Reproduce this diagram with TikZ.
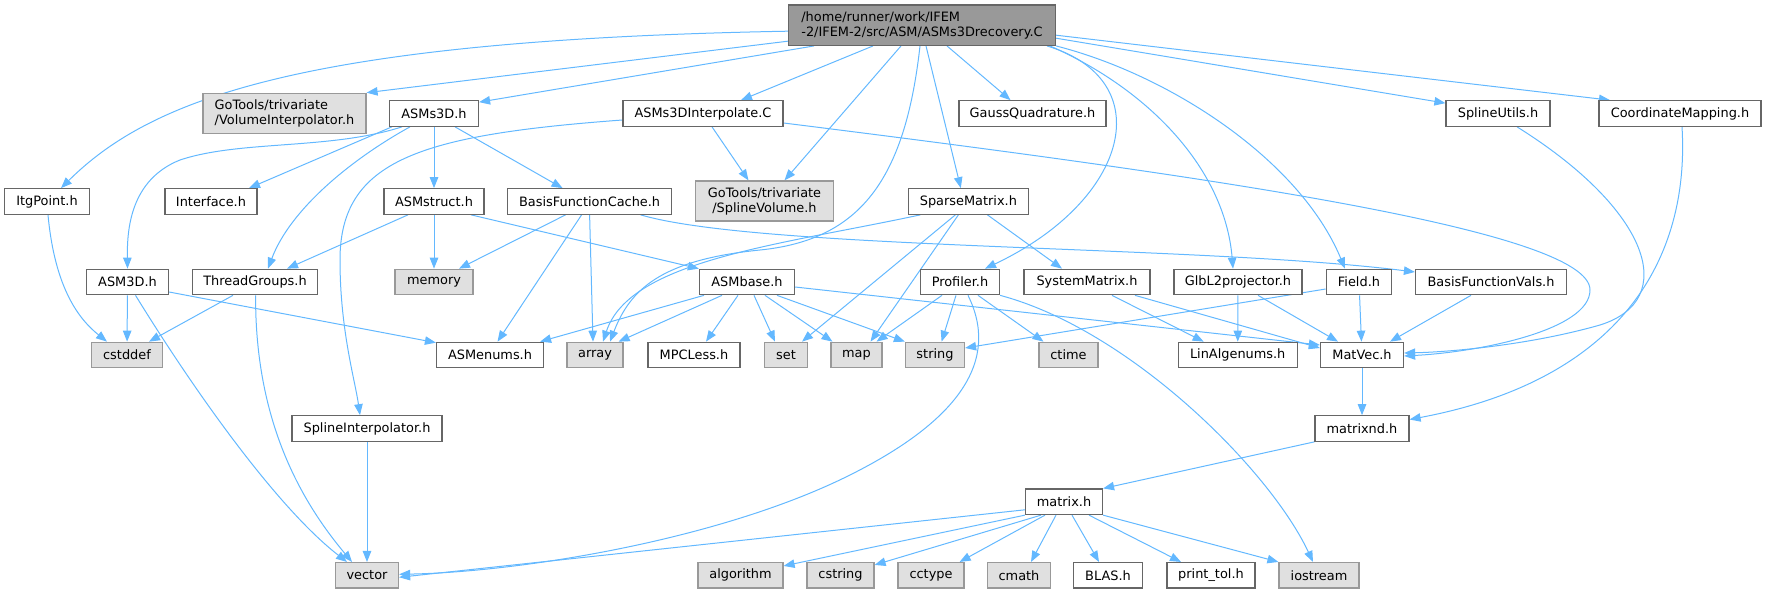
\documentclass[tikz,border=0pt]{standalone}
\usepackage{fontspec}
\newfontfamily\djv{DejaVu Sans}
\usetikzlibrary{arrows.meta}
\definecolor{edgec}{HTML}{63B8FF}
\definecolor{bord}{HTML}{666666}
\definecolor{gbord}{HTML}{999999}
\definecolor{gfill}{HTML}{E0E0E0}
\definecolor{rootfill}{HTML}{999999}
\pgfdeclarelayer{background}
\pgfsetlayers{background,main}
\tikzset{
  nd/.style={draw=bord, line width=1.2pt, fill=white, inner sep=0pt, minimum height=25.5pt,
    font=\djv\fontsize{12.9}{15}\selectfont, text=black},
  sysn/.style={nd, draw=gbord, fill=gfill},
  rootn/.style={nd, draw=bord, fill=rootfill},
  edge/.style={draw=edgec, line width=1pt, -{Triangle[length=11pt,width=8.5pt]}},
}
\begin{document}
\begin{tikzpicture}[x=1pt,y=-1pt]
\useasboundingbox (0,0) rectangle (1767,593);
% row 0
\node[rootn, minimum width=267pt, minimum height=40.3pt, align=left] (root) at (922,25.2) {/home/runner/work/IFEM\\-2/IFEM-2/src/ASM/ASMs3Drecovery.C};
% row 1
\node[sysn, minimum width=163pt, minimum height=40pt, align=left] (vol) at (284.5,113.3) {GoTools/trivariate\\/VolumeInterpolator.h};
\node[nd, minimum width=89pt] (asms3d) at (434,113.5) {ASMs3D.h};
\node[nd, minimum width=160pt] (interp) at (703,113.5) {ASMs3DInterpolate.C};
\node[nd, minimum width=147pt] (gauss) at (1032.5,113.5) {GaussQuadrature.h};
\node[nd, minimum width=104pt] (splineutils) at (1498,113.5) {SplineUtils.h};
\node[nd, minimum width=162pt] (coord) at (1680,113.5) {CoordinateMapping.h};
% row 2
\node[nd, minimum width=85pt] (itg) at (47,201.5) {ItgPoint.h};
\node[nd, minimum width=92pt] (interface) at (211,201.5) {Interface.h};
\node[nd, minimum width=100pt] (asmstruct) at (434,201.5) {ASMstruct.h};
\node[nd, minimum width=164pt] (bfc) at (589.6,201.5) {BasisFunctionCache.h};
\node[sysn, minimum width=138pt, minimum height=40pt, align=center] (splinevol) at (764.5,201) {GoTools/trivariate\\/SplineVolume.h};
\node[nd, minimum width=120pt] (sparse) at (968.4,201.5) {SparseMatrix.h};
% row 3
\node[nd, minimum width=82pt] (asm3d) at (127.5,282) {ASM3D.h};
\node[nd, minimum width=125.5pt] (thread) at (255,282) {ThreadGroups.h};
\node[sysn, minimum width=78pt] (memory) at (434,282) {memory};
\node[nd, minimum width=95pt] (asmbase) at (747,282) {ASMbase.h};
\node[nd, minimum width=79pt] (profiler) at (960,282) {Profiler.h};
\node[nd, minimum width=126pt] (sysmat) at (1087,282) {SystemMatrix.h};
\node[nd, minimum width=128pt] (glbl2) at (1238,282) {GlbL2projector.h};
\node[nd, minimum width=65.5pt] (field) at (1359,282) {Field.h};
\node[nd, minimum width=151pt] (bfv) at (1491,282) {BasisFunctionVals.h};
% row 4
\node[sysn, minimum width=71pt] (cstddef) at (127,355) {cstddef};
\node[nd, minimum width=107pt] (asmenums) at (490,355) {ASMenums.h};
\node[sysn, minimum width=56pt] (array) at (595,355) {array};
\node[nd, minimum width=92pt] (mpcless) at (694,355) {MPCLess.h};
\node[sysn, minimum width=43pt] (set) at (786,355) {set};
\node[sysn, minimum width=51pt] (map) at (856.5,355) {map};
\node[sysn, minimum width=59pt] (string) at (935,355) {string};
\node[sysn, minimum width=59pt] (ctime) at (1068.5,355) {ctime};
\node[nd, minimum width=119pt] (linalg) at (1237.7,355) {LinAlgenums.h};
\node[nd, minimum width=83pt] (matvec) at (1362,355) {MatVec.h};
% row 5
\node[nd, minimum width=150pt] (splineinterp) at (367,428.5) {SplineInterpolator.h};
\node[nd, minimum width=94pt] (matrixnd) at (1362,428.5) {matrixnd.h};
% row 6
\node[nd, minimum width=77pt] (matrix) at (1064,501.8) {matrix.h};
% row 7
\node[sysn, minimum width=63pt] (vector) at (367,575.3) {vector};
\node[sysn, minimum width=85pt] (algorithm) at (740.5,575.3) {algorithm};
\node[sysn, minimum width=67pt] (cstring) at (840.5,575.3) {cstring};
\node[sysn, minimum width=66pt] (cctype) at (931,575.3) {cctype};
\node[sysn, minimum width=62.5pt] (cmath) at (1019,575.3) {cmath};
\node[nd, minimum width=68.6pt] (blas) at (1108,575.3) {BLAS.h};
\node[nd, minimum width=88pt] (printtol) at (1211,575.3) {print\_tol.h};
\node[sysn, minimum width=80pt] (iostream) at (1319,575.3) {iostream};

\begin{pgfonlayer}{background}
% root edges
\draw[edge] ([yshift=-6pt]root.west) .. controls (300,40) and (150,100) .. ([xshift=14pt]itg.north);
\draw[edge] ([yshift=-16pt]root.west) -- (vol.north east);
\draw[edge] ([xshift=-108pt]root.south) -- ([yshift=-2pt]asms3d.north east);
\draw[edge] ([xshift=-49pt]root.south) -- ([xshift=38pt]interp.north);
\draw[edge] ([xshift=-21pt]root.south) -- ([xshift=20pt]splinevol.north);
\draw[edge] ([xshift=-2pt]root.south) .. controls (905,180) and (860,240) .. (760,250) .. controls (660,260) and (630,290) .. ([xshift=15pt]array.north);
\draw[edge] ([xshift=4pt]root.south) -- ([xshift=-7.6pt]sparse.north);
\draw[edge] ([xshift=25pt]root.south) -- ([xshift=-22pt]gauss.north);
\draw[edge] ([xshift=125pt]root.south) .. controls (1160,80) and (1130,200) .. ([xshift=25pt]profiler.north);
\draw[edge] ([xshift=128pt]root.south) .. controls (1150,90) and (1225,170) .. ([xshift=-5pt]glbl2.north);
\draw[edge] (root.south east) .. controls (1170,75) and (1300,160) .. ([xshift=-14pt]field.north);
\draw[edge] ([yshift=-13pt]root.east) -- ([yshift=-3pt]splineutils.north west);
\draw[edge] ([yshift=-10pt]root.east) -- ([xshift=-70pt]coord.north);
% interp
\draw[edge] ([xshift=9pt]interp.south) -- ([xshift=-16pt]splinevol.north);
\draw[edge] ([yshift=-9.5pt]interp.east) .. controls (1200,175) and (1590,230) .. (1590,290) .. controls (1590,330) and (1480,352) .. ([yshift=-1pt]matvec.east);
\draw[edge] ([yshift=-6.5pt]interp.west) .. controls (420,135) and (340,160) .. (340,260) .. controls (340,330) and (355,380) .. ([xshift=-7pt]splineinterp.north);
% splineutils, coord
\draw[edge] ([xshift=19pt]splineutils.south) .. controls (1650,210) and (1680,300) .. (1600,325) .. controls (1530,345) and (1450,352) .. ([yshift=2pt]matvec.east);
\draw[edge] ([xshift=2pt]coord.south) .. controls (1690,260) and (1620,380) .. ([yshift=9pt]matrixnd.east);
% asms3d
\draw[edge] ([xshift=-32pt]asms3d.south) .. controls (330,150) and (240,140) .. (180,160) .. controls (130,180) and (127,230) .. (asm3d.north);
\draw[edge] ([xshift=3pt]asms3d.south west) -- ([xshift=38pt]interface.north);
\draw[edge] ([xshift=-24pt]asms3d.south) .. controls (350,160) and (290,210) .. ([xshift=13pt]thread.north);
\draw[edge] (asms3d) -- (asmstruct);
\draw[edge] ([xshift=21pt]asms3d.south) -- ([xshift=-27pt]bfc.north);
% asmstruct
\draw[edge] ([xshift=-26pt]asmstruct.south) -- ([xshift=32pt]thread.north);
\draw[edge] (asmstruct) -- (memory);
\draw[edge] ([xshift=37pt]asmstruct.south) -- (asmbase.north west);
% bfc
\draw[edge] ([xshift=-24pt]bfc.south) -- ([xshift=25pt]memory.north);
\draw[edge] ([xshift=-8pt]bfc.south) -- ([xshift=7.5pt]asmenums.north);
\draw[edge] (bfc.south) -- ([xshift=-2pt]array.north);
\draw[edge] ([xshift=51pt]bfc.south) .. controls (760,250) and (1200,245) .. ([yshift=10pt]bfv.west);
% asm3d
\draw[edge] (asm3d) -- (cstddef);
\draw[edge] ([xshift=8pt]asm3d.south) .. controls (200,400) and (280,510) .. ([xshift=-20pt]vector.north);
\draw[edge] ([yshift=-10pt]asm3d.east) -- ([yshift=-1pt]asmenums.north west);
% thread
\draw[edge] ([xshift=-22pt]thread.south) -- ([xshift=22pt]cstddef.north);
\draw[edge] ([xshift=0.6pt]thread.south) .. controls (255,420) and (300,500) .. ([xshift=-15pt]vector.north);
% itg
\draw[edge] ([xshift=1pt]itg.south) .. controls (55,290) and (80,320) .. ([xshift=-20pt]cstddef.north);
% splineinterp
\draw[edge] (splineinterp) -- (vector);
% asmbase
\draw[edge] ([xshift=-43pt]asmbase.south) -- ([xshift=-4pt]asmenums.north east);
\draw[edge] ([xshift=-25pt]asmbase.south) -- ([xshift=-5pt]array.north east);
\draw[edge] ([xshift=-9pt]asmbase.south) -- ([xshift=12pt]mpcless.north);
\draw[edge] ([xshift=7pt]asmbase.south) -- ([xshift=-11pt]set.north);
\draw[edge] ([xshift=18pt]asmbase.south) -- ([xshift=-24pt]map.north);
\draw[edge] ([xshift=30pt]asmbase.south) -- (string.north west);
\draw[edge] ([yshift=-5pt]asmbase.east) -- ([yshift=10pt]matvec.west);
% sparse
\draw[edge] ([xshift=-48pt]sparse.south) .. controls (780,245) and (630,260) .. ([xshift=8pt]array.north);
\draw[edge] ([xshift=-13pt]sparse.south) -- ([xshift=16pt]set.north);
\draw[edge] ([xshift=-10pt]sparse.south) -- ([xshift=14pt]map.north);
\draw[edge] ([xshift=19pt]sparse.south) -- ([xshift=-25pt]sysmat.north);
% profiler
\draw[edge] ([xshift=-18pt]profiler.south) -- ([xshift=20pt]map.north);
\draw[edge] ([xshift=-4pt]profiler.south) -- ([xshift=6.6pt]string.north);
\draw[edge] ([xshift=18pt]profiler.south) -- ([xshift=-25pt]ctime.north);
\draw[edge] ([xshift=8pt]profiler.south) .. controls (1000,360) and (960,420) .. (850,475) .. controls (720,540) and (520,572) .. ([yshift=1pt]vector.east);
\draw[edge] (profiler.south east) .. controls (1130,330) and (1270,470) .. ([xshift=-6pt]iostream.north);
% sysmat
\draw[edge] ([xshift=25pt]sysmat.south) -- ([xshift=-34pt]linalg.north);
\draw[edge] ([xshift=48pt]sysmat.south) -- ([yshift=7pt]matvec.west);
% glbl2, field, bfv
\draw[edge] (glbl2) -- (linalg);
\draw[edge] ([xshift=20pt]glbl2.south) -- ([xshift=-24pt]matvec.north);
\draw[edge] ([yshift=-7pt]field.west) -- ([yshift=7pt]string.east);
\draw[edge] (field) -- (matvec);
\draw[edge] ([xshift=-20pt]bfv.south) -- ([xshift=28pt]matvec.north);
\draw[edge] (matvec) -- (matrixnd);
\draw[edge] (matrixnd.south west) -- (matrix.north east);
% matrix
\draw[edge] ([yshift=-8pt]matrix.west) -- ([yshift=-2pt]vector.east);
\draw[edge] (matrix.south west) -- ([yshift=-4pt]algorithm.north east);
\draw[edge] ([xshift=-23pt]matrix.south) -- ([yshift=-3pt]cstring.north east);
\draw[edge] ([xshift=-19pt]matrix.south) -- ([xshift=-5pt]cctype.north east);
\draw[edge] ([xshift=-8pt]matrix.south) -- ([xshift=12pt]cmath.north);
\draw[edge] ([xshift=8pt]matrix.south) -- ([xshift=-9pt]blas.north);
\draw[edge] ([xshift=25pt]matrix.south) -- ([xshift=-30pt]printtol.north);
\draw[edge] (matrix.south east) -- (iostream.north west);
\end{pgfonlayer}
\end{tikzpicture}
\end{document}
